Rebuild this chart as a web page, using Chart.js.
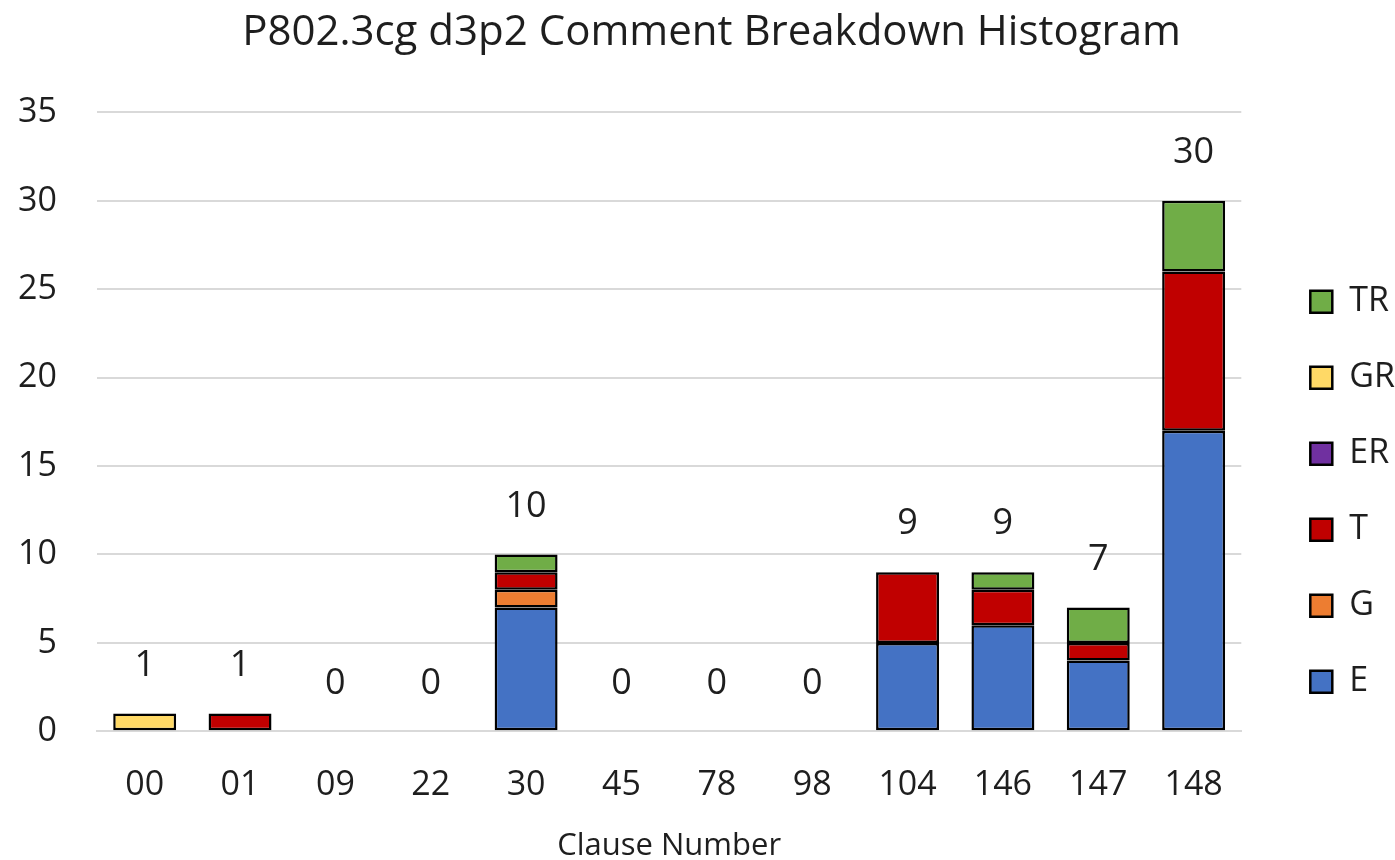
<!DOCTYPE html>
<html>
<head>
<meta charset="utf-8">
<script src="https://cdn.jsdelivr.net/npm/chart.js@4"></script>
<style>
  html, body { margin: 0; padding: 0; background: #fff; }
  #wrap { width: 1395px; height: 860px; }
</style>
</head>
<body>
<div id="wrap"><canvas id="chart" width="1395" height="860"></canvas></div>
<script>
const clauses = ['00', '01', '09', '22', '30', '45', '78', '98', '104', '146', '147', '148'];
const eValues  = [0, 0, 0, 0, 7, 0, 0, 0, 5, 6, 4, 17];
const gValues  = [0, 0, 0, 0, 1, 0, 0, 0, 0, 0, 0, 0];
const tValues  = [0, 1, 0, 0, 1, 0, 0, 0, 4, 2, 1, 9];
const erValues = [0, 0, 0, 0, 0, 0, 0, 0, 0, 0, 0, 0];
const grValues = [1, 0, 0, 0, 0, 0, 0, 0, 0, 0, 0, 0];
const trValues = [0, 0, 0, 0, 1, 0, 0, 0, 0, 1, 2, 4];
const yTicks = [0, 5, 10, 15, 20, 25, 30, 35];

const font = '"Open Sans", "Noto Sans", sans-serif';
const textColor = '#1e1e1e';

// zeros are left out so no empty bar outline gets drawn
const noZero = arr => arr.map(v => v === 0 ? null : v);

function makeSet(label, values, color) {
    return {
        label: label,
        data: noZero(values),
        backgroundColor: color,
        borderColor: '#000',
        borderWidth: 2.5,
        borderSkipped: false,
        categoryPercentage: 1,
        barPercentage: 0.66,
        stack: 'all',
        yAxisID: 'y'
    };
}

const datasets = [
    makeSet('E', eValues, '#4472C4'),
    makeSet('G', gValues, '#ED7D31'),
    makeSet('T', tValues, '#C00000'),
    makeSet('ER', erValues, '#7030A0'),
    makeSet('GR', grValues, '#FFD966'),
    makeSet('TR', trValues, '#70AD47')
];

const totals = clauses.map((c, i) =>
    eValues[i] + gValues[i] + tValues[i] + erValues[i] + grValues[i] + trValues[i]);

const totalLabels = {
    id: 'totalLabels',
    afterDatasetsDraw(chart) {
        const ctx = chart.ctx;
        const y = chart.scales.y;
        const meta = chart.getDatasetMeta(0);
        ctx.save();
        ctx.font = '36px ' + font;
        ctx.fillStyle = textColor;
        ctx.textAlign = 'center';
        ctx.textBaseline = 'middle';
        totals.forEach((t, i) => {
            const x = meta.data[i].x;
            ctx.fillText(String(t), x, y.getPixelForValue(t) - 48);
        });
        ctx.restore();
    }
};

new Chart(document.getElementById('chart'), {
    type: 'bar',
    data: { labels: clauses, datasets: datasets },
    options: {
        responsive: false,
        animation: false,
        layout: { padding: { top: 6, left: 18, right: -10, bottom: 0 } },
        plugins: {
            title: {
                display: true,
                text: 'P802.3cg d3p2 Comment Breakdown Histogram',
                color: textColor,
                font: { family: font, size: 42, weight: 'normal' },
                padding: { top: 2, bottom: 54 }
            },
            legend: {
                position: 'right',
                reverse: true,
                title: { display: true, text: ' ', padding: { top: 0, bottom: 103 } },
                labels: {
                    color: textColor,
                    font: { family: font, size: 34 },
                    boxWidth: 22,
                    boxHeight: 22,
                    padding: 42,
                    generateLabels(chart) {
                        const items = Chart.defaults.plugins.legend.labels.generateLabels(chart);
                        items.forEach(it => { it.lineWidth = 2.5; it.strokeStyle = '#000'; });
                        return items;
                    }
                }
            },
            tooltip: { enabled: false }
        },
        scales: {
            x: {
                stacked: true,
                grid: { display: false },
                border: { color: '#d9d9d9', width: 2 },
                ticks: { color: textColor, font: { family: font, size: 34 }, padding: 26 },
                title: {
                    display: true,
                    text: 'Clause Number',
                    color: textColor,
                    font: { family: font, size: 31, lineHeight: 0.9 },
                    padding: { top: 0, bottom: 0 }
                }
            },
            y: {
                stacked: true,
                min: 0,
                max: 35,
                afterBuildTicks(axis) { axis.ticks = yTicks.map(v => ({ value: v })); },
                afterFit(axis) { axis.width = 79; },
                grid: { color: '#d9d9d9', lineWidth: 2, drawTicks: false },
                border: { display: false },
                ticks: { color: textColor, font: { family: font, size: 34 }, padding: 40 }
            },
            // empty spacer axis: keeps a gap between the plot and the legend
            gap: {
                position: 'right',
                min: 0,
                max: 35,
                grid: { display: false, drawTicks: false },
                border: { display: false },
                ticks: { display: false },
                afterFit(axis) { axis.width = 27; }
            }
        }
    },
    plugins: [totalLabels]
});
</script>
</body>
</html>
